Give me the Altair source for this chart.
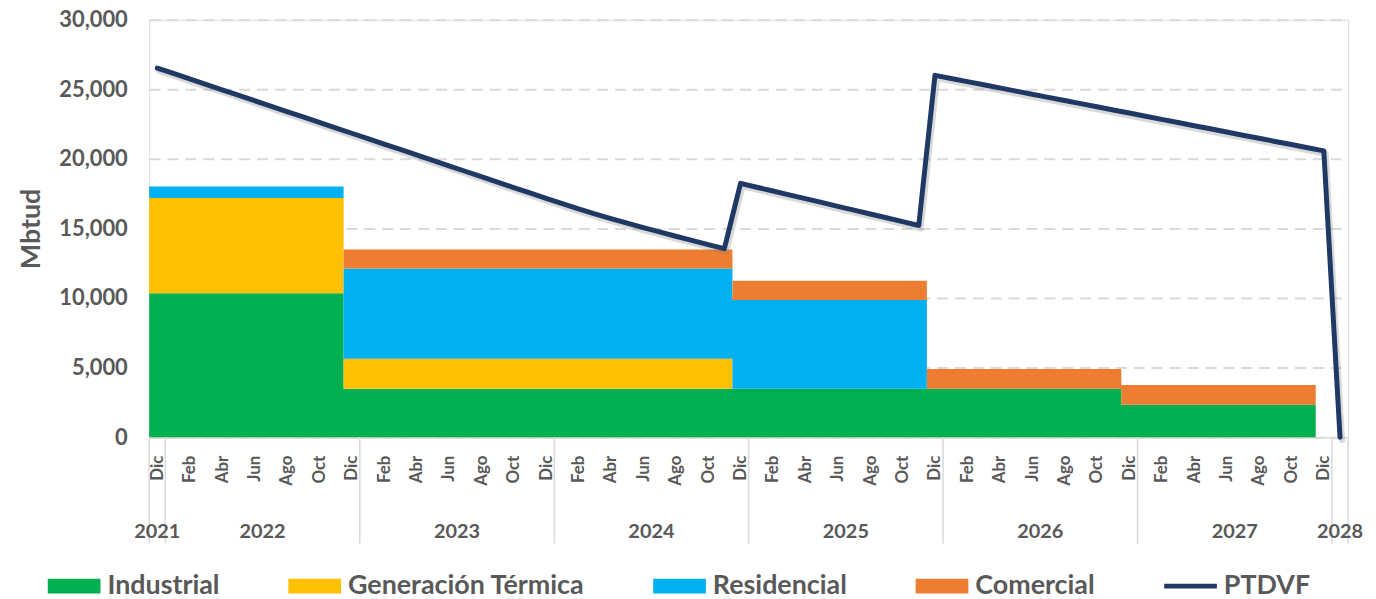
import json
import altair as alt
import pandas as pd

# ---------------- data ----------------
series_names = ["Industrial", "Generación Térmica", "Residencial", "Comercial"]
series_colors = ["#00B050", "#FFC000", "#00B0F0", "#ED7D31"]
line_name = "PTDVF"
line_color = "#1F3864"

# demand blocks (Mbtud), each block starts in the given month and lasts until the next one
period_starts = ["2021-12", "2022-12", "2024-12", "2025-12", "2026-12"]
period_end = "2027-12"
industrial = [10350, 3480, 3480, 3480, 2330]
generacion = [6830, 2160, 0, 0, 0]
residencial = [830, 6480, 6380, 0, 0]
comercial = [0, 1360, 1380, 1420, 1420]

# PTDVF monthly, Dic 2021 ... Ene 2028
ptdvf = [
    26520, 26140, 25740, 25350, 24960, 24580, 24180, 23790, 23400, 23020, 22620, 22230,
    21840, 21450, 21060, 20680, 20280, 19890, 19500, 19110, 18720, 18330, 17940, 17550,
    17160, 16780, 16400, 16050, 15710, 15380, 15060, 14750, 14440, 14140, 13840, 13550,
    18240, 17960, 17690, 17410, 17140, 16870, 16590, 16320, 16040, 15770, 15490, 15210,
    26000, 25770, 25550, 25320, 25100, 24870, 24640, 24420, 24190, 23970, 23740, 23510,
    23290, 23060, 22840, 22610, 22380, 22160, 21930, 21700, 21480, 21250, 21030, 20800,
    20570, 0,
]
first_month = "2021-12"

month_tick_labels = ["Dic", "Feb", "Abr", "Jun", "Ago", "Oct"]
year_labels = ["2021", "2022", "2023", "2024", "2025", "2026", "2027", "2028"]
year_months = [1, 12, 12, 12, 12, 12, 12, 1]

# ---------------- tables ----------------
def month_index(ym):
    y, m = map(int, ym.split("-"))
    y0, m0 = map(int, first_month.split("-"))
    return (y - y0) * 12 + (m - m0)

n_months = sum(year_months)
series_values = [industrial, generacion, residencial, comercial]

area_rows = []
xs = [month_index(s) for s in period_starts] + [month_index(period_end)]
for k, x in enumerate(xs):
    kk = min(k, len(period_starts) - 1)
    for j, name in enumerate(series_names):
        area_rows.append({"mes": x, "valor": series_values[j][kk], "serie": name, "orden": j})
area_df = pd.DataFrame(area_rows)

line_df = pd.DataFrame({
    "mes": [i + 0.5 for i in range(len(ptdvf))],
    "valor": ptdvf,
    "serie": [line_name] * len(ptdvf),
})

starts = []
acc = 0
for n in year_months:
    starts.append(acc)
    acc += n
year_df = pd.DataFrame({
    "mes": [s + n / 2 for s, n in zip(starts, year_months)],
    "label": year_labels,
})
sep_df = pd.DataFrame({"mes": starts + [n_months]})

# ---------------- styling ----------------
FONT = "Lato"
GREY = "#595959"
GRID = "#D9D9D9"
W, H = 1206, 420

x_scale = alt.Scale(domain=[0, n_months], nice=False, zero=False)
y_scale = alt.Scale(domain=[0, 30000], nice=False)
color_scale = alt.Scale(domain=series_names + [line_name], range=series_colors + [line_color])

tick_vals = [i + 0.5 for i in range(0, n_months - 1, 2)]
label_expr = json.dumps(month_tick_labels) + "[floor(datum.value / 2) % " + str(len(month_tick_labels)) + "]"

x_axis = alt.Axis(
    values=tick_vals, labelExpr=label_expr, title=None, grid=False,
    ticks=False, tickSize=0, labelAngle=270, labelPadding=18,
    labelFont=FONT, labelFontSize=17, labelFontWeight="bold", labelColor=GREY,
    domainColor=GRID, domainWidth=1.5, labelOverlap=False,
)
y_axis = alt.Axis(
    values=list(range(0, 30001, 5000)), labelExpr="format(datum.value, ',')", title="Mbtud",
    titleFont=FONT, titleFontSize=27, titleFontWeight="bold", titleColor=GREY,
    titleX=-118, titleY=H / 2, titleAngle=270, titleAlign="center", titleBaseline="middle",
    labelFont=FONT, labelFontSize=22, labelFontWeight="bold", labelColor=GREY,
    ticks=False, tickSize=0, labelPadding=22, domain=False,
    grid=True, gridColor=GRID, gridDash=[11, 7], gridWidth=2,
)

box_path = "M-1,-0.283H1V0.283H-1Z"
bar_path = "M-1,-0.09H1V0.09H-1Z"
legend = alt.Legend(
    title=None, orient="none", legendX=-102, legendY=543, direction="horizontal",
    columns=5, columnPadding=69, labelOffset=7, labelLimit=500,
    labelFont=FONT, labelFontSize=27, labelFontWeight="bold", labelColor=GREY,
    symbolType={"expr": "datum.value === '" + line_name + "' ? '" + bar_path + "' : '" + box_path + "'"},
    symbolSize=2809, symbolStrokeWidth=0, symbolOpacity=1,
    symbolFillColor={"expr": "scale('color', datum.value)"},
)

X = alt.X("mes:Q", scale=x_scale, axis=x_axis)
Y = alt.Y("valor:Q", scale=y_scale, axis=y_axis)

areas = alt.Chart(area_df).mark_area(interpolate="step-after").encode(
    x=X,
    y=alt.Y("valor:Q", stack="zero", scale=y_scale, axis=y_axis),
    color=alt.Color("serie:N", scale=color_scale, legend=legend),
    order=alt.Order("orden:Q", sort="ascending"),
)

shadow = alt.Chart(line_df).mark_line(
    color="#808080", opacity=0.3, strokeWidth=6, xOffset=2, yOffset=3,
    strokeJoin="round", strokeCap="round",
).encode(x=X, y=Y)

line = alt.Chart(line_df).mark_line(strokeWidth=5, strokeJoin="round", strokeCap="round").encode(
    x=X, y=Y,
    color=alt.Color("serie:N", scale=color_scale, legend=legend),
)

seps = alt.Chart(sep_df).mark_rule(color=GRID, strokeWidth=1.5).encode(
    x=X,
    y=alt.value(H),
    y2=alt.value(H + 107),
)

years = alt.Chart(year_df).mark_text(
    font=FONT, fontSize=20, fontWeight="bold", color=GREY, baseline="middle", align="center",
).encode(
    x=X,
    y=alt.value(H + 95),
    text="label:N",
)

chart = alt.layer(areas, shadow, line, seps, years).properties(
    width=W, height=H,
    padding={"left": 142, "top": 10, "right": 20, "bottom": 160},
    autosize=alt.AutoSizeParams(type="none"),
).configure_view(stroke="transparent", strokeWidth=0).configure(font=FONT)

chart.save("out.html", embed_options={"renderer": "svg", "actions": False})
